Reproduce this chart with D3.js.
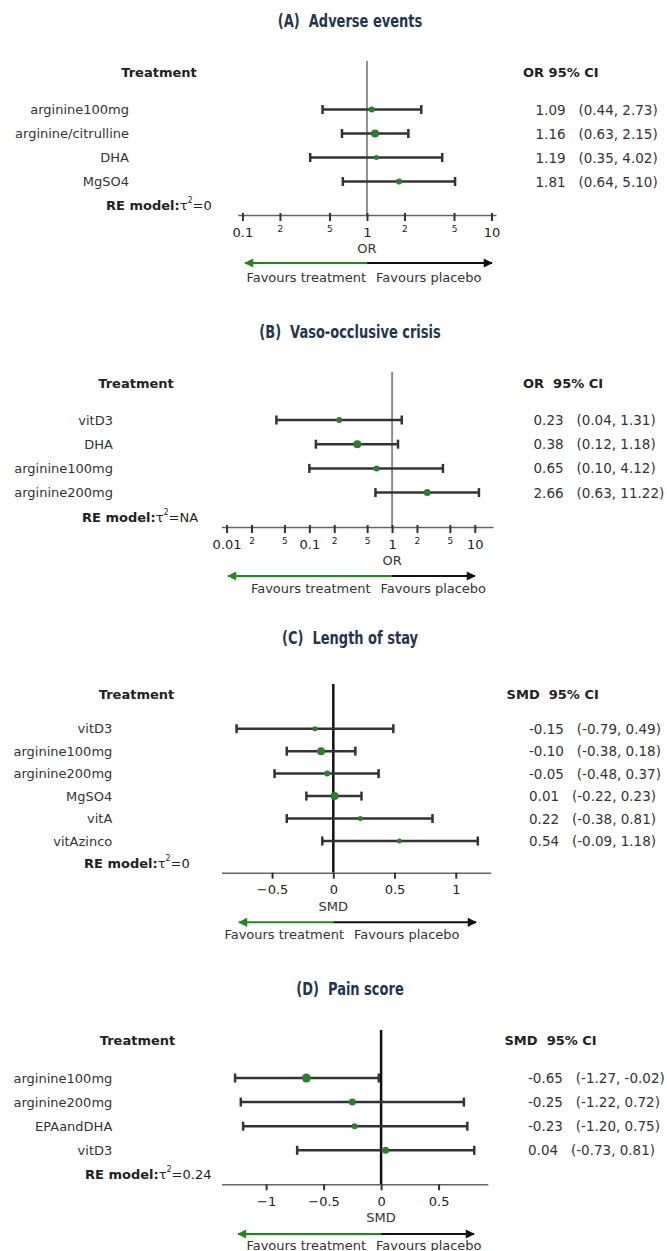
<!DOCTYPE html>
<html>
<head>
<meta charset="utf-8">
<script src="https://cdn.jsdelivr.net/npm/d3@7.9.0/dist/d3.min.js"></script>
<style>
  body { margin: 0; background: #fff; }
  svg { display: block; font-family: "DejaVu Sans", Verdana, sans-serif; }
</style>
</head>
<body>
<svg id="chart" width="667" height="1251"></svg>
<script>
// ---- data ----
const aTreatments = ['arginine100mg', 'arginine/citrulline', 'DHA', 'MgSO4'];
const aEst = [1.09, 1.16, 1.19, 1.81];
const aLow = [0.44, 0.63, 0.35, 0.64];
const aHigh = [2.73, 2.15, 4.02, 5.10];
const aWeight = [9, 16, 6.25, 9];
const aTicks = [0.1, 0.2, 0.5, 1, 2, 5, 10];
const aTickLabels = ['0.1', '2', '5', '1', '2', '5', '10'];

const bTreatments = ['vitD3', 'DHA', 'arginine100mg', 'arginine200mg'];
const bEst = [0.23, 0.38, 0.65, 2.66];
const bLow = [0.04, 0.12, 0.10, 0.63];
const bHigh = [1.31, 1.18, 4.12, 11.22];
const bWeight = [9, 16, 9, 12.25];
const bTicks = [0.01, 0.02, 0.05, 0.1, 0.2, 0.5, 1, 2, 5, 10];
const bTickLabels = ['0.01', '2', '5', '0.1', '2', '5', '1', '2', '5', '10'];

const cTreatments = ['vitD3', 'arginine100mg', 'arginine200mg', 'MgSO4', 'vitA', 'vitAzinco'];
const cEst = [-0.15, -0.10, -0.05, 0.01, 0.22, 0.54];
const cLow = [-0.79, -0.38, -0.48, -0.22, -0.38, -0.09];
const cHigh = [0.49, 0.18, 0.37, 0.23, 0.81, 1.18];
const cWeight = [6.25, 16, 9, 16, 6.25, 6.25];
const cTicks = [-0.5, 0, 0.5, 1];
const cTickLabels = ['\u22120.5', '0', '0.5', '1'];

const dTreatments = ['arginine100mg', 'arginine200mg', 'EPAandDHA', 'vitD3'];
const dEst = [-0.65, -0.25, -0.23, 0.04];
const dLow = [-1.27, -1.22, -1.20, -0.73];
const dHigh = [-0.02, 0.72, 0.75, 0.81];
const dWeight = [20.25, 12.25, 9, 12.25];
const dTicks = [-1, -0.5, 0, 0.5];
const dTickLabels = ['\u22121', '\u22120.5', '0', '0.5'];

// ---- panels (data + layout) ----
const panels = [
  { title: '(A)  Adverse events', stat: 'OR', statHead: 'OR 95% CI', tau: '0', log: true,
    names: aTreatments, est: aEst, low: aLow, high: aHigh, weight: aWeight, ticks: aTicks, tickLabels: aTickLabels,
    domain: [0.0916, 10.87], range: [237.7, 496],
    titleY: 21, headY: 72, vTop: 61, rowY0: 109.5, rowStep: 24, reY: 204.5, axisY: 215,
    tickLabY: 232, axisTitleY: 248, arrowY: 263, arrowL: 245, arrowR: 492, favY: 277, favSplit: 371,
    labelRight: 129, headX: 159, reX: 106, statX: 523, valX: 535.5 },
  { title: '(B)  Vaso-occlusive crisis', stat: 'OR', statHead: 'OR  95% CI', tau: 'NA', log: true,
    names: bTreatments, est: bEst, low: bLow, high: bHigh, weight: bWeight, ticks: bTicks, tickLabels: bTickLabels,
    domain: [0.00868, 16.6], range: [221.5, 493],
    titleY: 332, headY: 383, vTop: 372, rowY0: 420, rowStep: 24.2, reY: 517, axisY: 527,
    tickLabY: 544, axisTitleY: 560, arrowY: 576, arrowL: 228, arrowR: 475, favY: 588, favSplit: 375.5,
    labelRight: 113, headX: 136, reX: 82, statX: 523, valX: 533.5 },
  { title: '(C)  Length of stay', stat: 'SMD', statHead: 'SMD  95% CI', tau: '0', log: false,
    names: cTreatments, est: cEst, low: cLow, high: cHigh, weight: cWeight, ticks: cTicks, tickLabels: cTickLabels,
    domain: [-0.913, 1.286], range: [221.5, 490.8],
    titleY: 638, headY: 694, vTop: 684, rowY0: 728.7, rowStep: 22.46, reY: 862.7, axisY: 872.7,
    tickLabY: 890, axisTitleY: 906, arrowY: 922.3, arrowL: 239, arrowR: 476, favY: 934, favSplit: 349,
    labelRight: 112.3, headX: 136.5, reX: 84, statX: 506.6, valX: 529 },
  { title: '(D)  Pain score', stat: 'SMD', statHead: 'SMD  95% CI', tau: '0.24', log: false,
    names: dTreatments, est: dEst, low: dLow, high: dHigh, weight: dWeight, ticks: dTicks, tickLabels: dTickLabels,
    domain: [-1.388, 0.928], range: [221.5, 487.8],
    titleY: 989.3, headY: 1040, vTop: 1030, rowY0: 1078, rowStep: 24.1, reY: 1173.7, axisY: 1184.3,
    tickLabY: 1201.7, axisTitleY: 1217.7, arrowY: 1234, arrowL: 238, arrowR: 474, favY: 1245, favSplit: 371,
    labelRight: 112.3, headX: 137.5, reX: 85, statX: 504.5, valX: 528 }
];

const svg = d3.select('#chart');
const green = '#2a7f2a';
const rScale = d3.scaleSqrt().domain([0, 25]).range([0, 5]);
const fmt = (v) => v.toFixed(2);
const isMajor = (lab) => ['0.01', '0.1', '1', '10'].includes(lab);

// arrow heads
const defs = svg.append('defs');
[['head-green', '#1e8a1e'], ['head-black', '#111']].forEach(([id, col]) => {
  defs.append('marker')
    .attr('id', id)
    .attr('viewBox', '0 0 10 10')
    .attr('refX', 9).attr('refY', 5)
    .attr('markerWidth', 5.5).attr('markerHeight', 4.6)
    .attr('markerUnits', 'strokeWidth')
    .attr('orient', 'auto')
    .append('path').attr('d', 'M0,0L10,5L0,10Z').attr('fill', col);
});

function drawPanel(p) {
  const g = svg.append('g');
  const x = (p.log ? d3.scaleLog() : d3.scaleLinear()).domain(p.domain).range(p.range);
  const ref = p.log ? 1 : 0;
  const rowY = (i) => p.rowY0 + i * p.rowStep;

  // title (tall condensed look: squeeze a larger font horizontally)
  g.append('text')
    .attr('transform', `translate(350,${p.titleY}) scale(0.85,1)`)
    .attr('text-anchor', 'middle').attr('dominant-baseline', 'central')
    .attr('xml:space', 'preserve')
    .style('font-family', '"DejaVu Sans Condensed", "DejaVu Sans", sans-serif')
    .style('font-weight', 'bold').style('font-size', '17px')
    .attr('fill', '#1f3550')
    .text(p.title);

  // headers
  g.append('text')
    .attr('x', p.headX).attr('y', p.headY)
    .attr('text-anchor', 'middle').attr('dominant-baseline', 'central')
    .style('font-weight', 'bold').style('font-size', '13px').attr('fill', '#222')
    .text('Treatment');
  g.append('text')
    .attr('x', p.statX).attr('y', p.headY)
    .attr('dominant-baseline', 'central').attr('xml:space', 'preserve')
    .style('font-weight', 'bold').style('font-size', '13px').attr('fill', '#222')
    .text(p.statHead);

  // reference line
  g.append('line')
    .attr('x1', x(ref)).attr('x2', x(ref))
    .attr('y1', p.vTop).attr('y2', p.axisY)
    .attr('stroke', p.log ? '#555' : '#111')
    .attr('stroke-width', p.log ? 1.3 : 2.5);

  // axis
  const axis = d3.axisBottom(x)
    .tickValues(p.ticks)
    .tickFormat((d, i) => p.tickLabels[i])
    .tickSize(6).tickSizeOuter(0);
  const ax = g.append('g').attr('transform', `translate(0,${p.axisY})`).call(axis);
  ax.select('.domain').attr('stroke', '#666').attr('stroke-width', 1.5);
  ax.selectAll('.tick line').attr('stroke', '#333').attr('stroke-width', 2).attr('y1', p.log ? -2 : 0);
  ax.selectAll('.tick text')
    .attr('y', (d, i) => p.tickLabY - p.axisY - (p.log && !isMajor(p.tickLabels[i]) ? 3 : 0))
    .attr('dy', null)
    .attr('dominant-baseline', 'central')
    .attr('fill', '#222')
    .style('font-family', '"DejaVu Sans", Verdana, sans-serif')
    .style('font-size', (d, i) => (p.log && !isMajor(p.tickLabels[i]) ? '9px' : '13px'));

  g.append('text')
    .attr('x', x(ref)).attr('y', p.axisTitleY)
    .attr('text-anchor', 'middle').attr('dominant-baseline', 'central')
    .style('font-size', '13px').attr('fill', '#333')
    .text(p.stat);

  // rows
  const rows = p.names.map((n, i) => ({
    name: n, est: p.est[i], low: p.low[i], high: p.high[i], w: p.weight[i], y: rowY(i)
  }));

  g.selectAll('.lab').data(rows).join('text')
    .attr('x', p.labelRight).attr('y', (d) => d.y)
    .attr('text-anchor', 'end').attr('dominant-baseline', 'central')
    .style('font-size', '13px').attr('fill', '#333')
    .text((d) => d.name);

  g.selectAll('.ci').data(rows).join('line')
    .attr('x1', (d) => x(d.low)).attr('x2', (d) => x(d.high))
    .attr('y1', (d) => d.y).attr('y2', (d) => d.y)
    .attr('stroke', '#333').attr('stroke-width', 2.5);
  ['low', 'high'].forEach((k) => {
    g.selectAll('.cap-' + k).data(rows).join('line')
      .attr('x1', (d) => x(d[k])).attr('x2', (d) => x(d[k]))
      .attr('y1', (d) => d.y - 4.5).attr('y2', (d) => d.y + 4.5)
      .attr('stroke', '#333').attr('stroke-width', 2.5);
  });
  g.selectAll('.pt').data(rows).join('circle')
    .attr('cx', (d) => x(d.est)).attr('cy', (d) => d.y)
    .attr('r', (d) => rScale(d.w))
    .attr('fill', green);

  g.selectAll('.val').data(rows).join('text')
    .attr('x', p.valX).attr('y', (d) => d.y)
    .attr('dominant-baseline', 'central').attr('xml:space', 'preserve')
    .style('font-size', '13.5px').attr('fill', '#333')
    .text((d) => `${fmt(d.est)}   (${fmt(d.low)}, ${fmt(d.high)})`);

  // RE model line
  const re = g.append('text')
    .attr('x', p.reX).attr('y', p.reY)
    .attr('dominant-baseline', 'central')
    .style('font-size', '13px').attr('fill', '#222');
  re.append('tspan').style('font-weight', 'bold').text('RE model:');
  re.append('tspan').text('\u03c4');
  re.append('tspan').attr('dy', -5).style('font-size', '8px').text('2');
  re.append('tspan').attr('dy', 5).text('=' + p.tau);

  // favours arrows
  g.append('line')
    .attr('x1', x(ref)).attr('x2', p.arrowL)
    .attr('y1', p.arrowY).attr('y2', p.arrowY)
    .attr('stroke', '#1e8a1e').attr('stroke-width', 2)
    .attr('marker-end', 'url(#head-green)');
  g.append('line')
    .attr('x1', x(ref)).attr('x2', p.arrowR)
    .attr('y1', p.arrowY).attr('y2', p.arrowY)
    .attr('stroke', '#111').attr('stroke-width', 2)
    .attr('marker-end', 'url(#head-black)');

  g.append('text')
    .attr('x', p.favSplit - 5).attr('y', p.favY)
    .attr('text-anchor', 'end').attr('dominant-baseline', 'central')
    .style('font-size', '13px').attr('fill', '#333')
    .text('Favours treatment');
  g.append('text')
    .attr('x', p.favSplit + 5).attr('y', p.favY)
    .attr('dominant-baseline', 'central')
    .style('font-size', '13px').attr('fill', '#333')
    .text('Favours placebo');
}

panels.forEach(drawPanel);
</script>
</body>
</html>
